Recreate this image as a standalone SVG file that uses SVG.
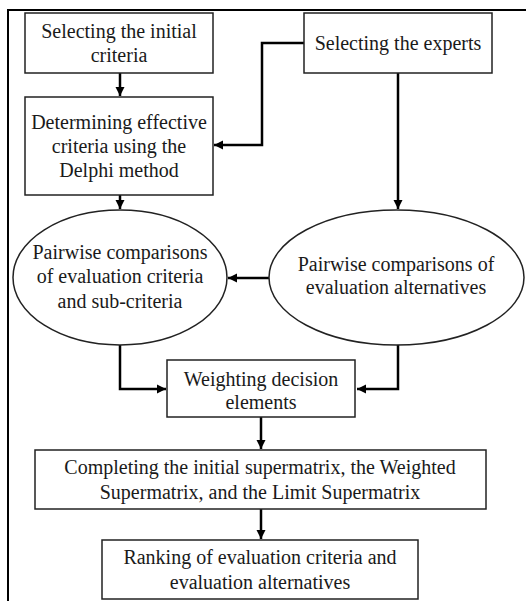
<svg xmlns="http://www.w3.org/2000/svg" width="526" height="601" viewBox="0 0 526 601">
<defs>
<style>
.n{fill:#fff;stroke:#222;stroke-width:1.5}
.t{font-family:"Liberation Serif","Times New Roman",serif;font-size:20px;fill:#1a1a1a;text-anchor:middle}
.c{fill:none;stroke:#000;stroke-width:2.5}
</style>
<marker id="ah" markerUnits="userSpaceOnUse" markerWidth="10" markerHeight="10" refX="9" refY="5" orient="auto">
<path d="M0,0.5 L9,5 L0,9.5 Z" fill="#000"/>
</marker>
</defs>
<rect width="526" height="601" fill="#fff"/>
<path d="M8,604 L8,10 L530,10" fill="none" stroke="#000" stroke-width="2"/>
<g id="connectors">
<path class="c" d="M120,73 L120,96" marker-end="url(#ah)"/>
<path class="c" d="M304,43 L262,43 L262,145 L214,145" marker-end="url(#ah)"/>
<path class="c" d="M398,73 L398,209" marker-end="url(#ah)"/>
<path class="c" d="M120,195 L120,209" marker-end="url(#ah)"/>
<path class="c" d="M269,278 L228,278" marker-end="url(#ah)"/>
<path class="c" d="M120,345 L120,389 L166,389" marker-end="url(#ah)"/>
<path class="c" d="M398,345 L398,389 L357,389" marker-end="url(#ah)"/>
<path class="c" d="M261,417 L261,449" marker-end="url(#ah)"/>
<path class="c" d="M261,509 L261,539" marker-end="url(#ah)"/>
</g>
<g id="initial">
<rect class="n" x="25" y="13" width="188" height="60"/>
<text class="t" x="119" y="38">Selecting the initial</text>
<text class="t" x="119" y="62">criteria</text>
</g>
<g id="experts">
<rect class="n" x="304" y="13" width="188" height="60"/>
<text class="t" x="398" y="50">Selecting the experts</text>
</g>
<g id="delphi">
<rect class="n" x="25" y="97" width="188" height="98"/>
<text class="t" x="119" y="129">Determining effective</text>
<text class="t" x="119" y="153">criteria using the</text>
<text class="t" x="119" y="177">Delphi method</text>
</g>
<g id="pw-criteria">
<ellipse class="n" cx="120" cy="277.5" rx="107" ry="67.5"/>
<text class="t" x="120" y="259">Pairwise comparisons</text>
<text class="t" x="120" y="283">of evaluation criteria</text>
<text class="t" x="120" y="308">and sub-criteria</text>
</g>
<g id="pw-alternatives">
<ellipse class="n" cx="396.5" cy="277.5" rx="127.5" ry="67.5"/>
<text class="t" x="396" y="271">Pairwise comparisons of</text>
<text class="t" x="396" y="294">evaluation alternatives</text>
</g>
<g id="weighting">
<rect class="n" x="167" y="360" width="188" height="57"/>
<text class="t" x="261" y="386">Weighting decision</text>
<text class="t" x="261" y="409">elements</text>
</g>
<g id="supermatrix">
<rect class="n" x="35" y="450" width="451" height="59"/>
<text class="t" x="260" y="474">Completing the initial supermatrix, the Weighted</text>
<text class="t" x="260" y="499">Supermatrix, and the Limit Supermatrix</text>
</g>
<g id="ranking">
<rect class="n" x="102" y="540" width="316" height="59"/>
<text class="t" x="260" y="564">Ranking of evaluation criteria and</text>
<text class="t" x="260" y="589">evaluation alternatives</text>
</g>
</svg>
